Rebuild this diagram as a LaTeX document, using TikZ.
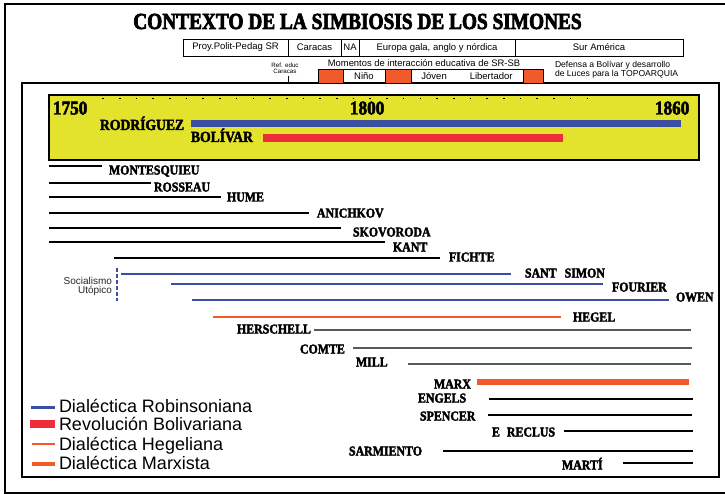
\documentclass[tikz,border=0pt]{standalone}
\usepackage{fontspec}
\setmainfont{Liberation Sans}
\newfontfamily\slabfont[FakeBold=2.5,FakeStretch=0.88]{Liberation Serif}
\newfontfamily\titlefont[FakeBold=3,FakeStretch=0.84]{Liberation Serif}
\usetikzlibrary{positioning}

\definecolor{sbblue}{HTML}{3B4FA2}
\definecolor{sbred}{HTML}{EE2D3B}
\definecolor{sbyellow}{HTML}{E3E22C}
\definecolor{sborange}{HTML}{F15A2B}
\definecolor{sbgrey}{HTML}{58595B}

\begin{document}
\begin{tikzpicture}[
    x=1pt, y=-1pt,
    every node/.style={inner sep=0pt, outer sep=0pt},
    slab/.style={font=\slabfont\bfseries\fontsize{#1}{#1}\selectfont},
    sans/.style={font=\fontsize{#1}{#1}\selectfont},
    who/.style={slab=13.5, anchor=base west},
    cell/.style={draw, line width=0.8pt, minimum height=17pt, sans=9.5},
    mcell/.style={draw, line width=0.8pt, minimum height=14pt, sans=9.5},
    moment/.style={mcell, fill=sborange},
    blackbar/.style={line width=1.6pt},
    greybar/.style={sbgrey, line width=2.8pt},
    bluebar/.style={sbblue, line width=2.8pt},
    hegelbar/.style={sborange, line width=2.8pt},
    marxbar/.style={sborange, line width=5.5pt},
    legend/.style={sans=18, anchor=base west},
]
  \useasboundingbox (0,0) rectangle (725,494);
  \fill[white] (0,0) rectangle (725,494);

  %--- Frames -----------------------------------------------
  \draw[line width=2.5pt] (5,4) rectangle (740,493);
  \draw[line width=1.8pt] (22,83) rectangle (719,477);

  %--- Title and header rows --------------------------------
  \node (title) [font=\titlefont\bfseries\fontsize{23}{23}\selectfont, anchor=base]
      at (357.5,29) {CONTEXTO DE LA SIMBIOSIS DE LOS SIMONES};

  \node (proy) [cell, minimum width=105pt] at (235.5,47.5) {Proy.Polit-Pedag SR};
  \node (caracas) [cell, minimum width=53pt, right=0pt of proy] {Caracas};
  \node (na) [cell, minimum width=18pt, right=0pt of caracas] {NA};
  \node (europa) [cell, minimum width=156pt, right=0pt of na] {Europa gala, anglo y nórdica};
  \node (sur) [cell, minimum width=168pt, right=0pt of europa] {Sur América};

  \node (refeduc) [align=center, font=\fontsize{6.2}{5.8}\selectfont] at (285,68) {Ref. educ\\Caracas};
  \coordinate (reftick) at (288,83);
  \draw[line width=0.8pt, shorten <=3pt] (reftick |- refeduc.south) -- (reftick);

  \node (momentos) [sans=9.4] at (424,63.5) {Momentos de interacción educativa de SR-SB};
  \node (m1) [moment, minimum width=25pt] at (330.5,76) {};
  \node (nino) [mcell, minimum width=42pt, right=0pt of m1] {Niño};
  \node (m2) [moment, minimum width=26pt, right=0pt of nino] {};
  \node (joven) [mcell, minimum width=112pt, right=0pt of m2] {Jóven\hspace{23pt}Libertador};
  \node (m3) [moment, minimum width=20pt, right=0pt of joven] {};

  \node (defensa) [anchor=west, align=left, font=\fontsize{8.6}{8.6}\selectfont] at (555,69.5)
      {Defensa a Bolívar y desarrollo\\de Luces para la TOPOARQUIA};

  %--- Yellow time band -------------------------------------
  \draw[line width=2pt, fill=sbyellow] (49,95) rectangle (699,160);
  \draw[line width=1.6pt, dash pattern=on 1.6pt off 15.1pt] (102.2,98.5) -- (590,98.5);
  \node (y1750) [slab=19.5, anchor=base west] at (53,114.5) {1750};
  \node (y1800) [slab=19.5, anchor=base west] at (350,114.5) {1800};
  \node (y1860) [slab=19.5, anchor=base west] at (655,114.5) {1860};

  \node (rodriguez) [slab=15.5, anchor=base west] at (100,130) {RODRÍGUEZ};
  \draw[sbblue, line width=7pt] (191,124) -- (681,124);
  \node (bolivar) [slab=15.5, anchor=base west] at (191,142) {BOLÍVAR};
  \draw[sbred, line width=8pt] (263,138) -- (563,138);

  %--- Thinkers ---------------------------------------------
  \draw[blackbar] (49,166) -- (102,166);
  \node (montesquieu) [who] at (109,174.5) {MONTESQUIEU};
  \draw[blackbar] (49,183) -- (151,183);
  \node (rosseau) [who] at (154,191.5) {ROSSEAU};
  \draw[blackbar] (49,197) -- (221,197);
  \node (hume) [who] at (227,201.5) {HUME};
  \draw[blackbar] (49,213) -- (309,213);
  \node (anichkov) [who] at (317,217.5) {ANICHKOV};
  \draw[blackbar] (49,228) -- (341,228);
  \node (skovoroda) [who] at (353,236.5) {SKOVORODA};
  \draw[blackbar] (49,242) -- (385,242);
  \node (kant) [who] at (393,251.5) {KANT};
  \draw[blackbar] (114,258) -- (440,258);
  \node (fichte) [who] at (449,261.5) {FICHTE};

  % utopian socialism
  \node (socialismo) [align=right, anchor=east, text=black!85,
      font=\fontsize{10}{9.2}\selectfont] at (112,286.5) {Socialismo\\Utópico};
  \draw[sbblue, line width=1.5pt, dash pattern=on 4pt off 2pt] (117,268) -- (117,301);
  \draw[bluebar] (121,274) -- (511,274);
  \node (santsimon) [who] at (525,277.5) {SANT\hspace{8pt}SIMON};
  \draw[bluebar] (171,284) -- (603,284);
  \node (fourier) [who] at (612,291.5) {FOURIER};
  \draw[bluebar] (192,300) -- (669,300);
  \node (owen) [who] at (676,301.5) {OWEN};

  \draw[hegelbar] (213,317) -- (561,317);
  \node (hegel) [who] at (573,321.5) {HEGEL};
  \node (herschell) [who] at (237,333.5) {HERSCHELL};
  \draw[greybar] (314,330) -- (691,330);
  \node (comte) [who] at (300,353.5) {COMTE};
  \draw[greybar] (353,348) -- (692,348);
  \node (mill) [who] at (356,366.5) {MILL};
  \draw[greybar] (408,364) -- (691,364);

  \node (marx) [who] at (434,388.5) {MARX};
  \draw[marxbar] (477,382) -- (689,382);
  \node (engels) [who] at (418,402.5) {ENGELS};
  \draw[blackbar] (489,399) -- (693,399);
  \node (spencer) [who] at (420,420.5) {SPENCER};
  \draw[blackbar] (488,415) -- (692,415);
  \node (reclus) [who] at (492,436.5) {E\hspace{7pt}RECLUS};
  \draw[blackbar] (564,431) -- (693,431);
  \node (sarmiento) [who] at (349,455.5) {SARMIENTO};
  \draw[blackbar] (443,451) -- (693,451);
  \node (marti) [who] at (562,469.5) {MARTÍ};
  \draw[blackbar] (623,463) -- (693,463);

  %--- Legend -----------------------------------------------
  \draw[sbblue, line width=3pt] (31,407) -- (55,407);
  \node (robinson) [legend] at (59,412.5) {Dialéctica Robinsoniana};
  \fill[sbred] (30,420) rectangle (55,428);
  \node (revolucion) [legend] at (59,430.5) {Revolución Bolivariana};
  \draw[sborange, line width=2.5pt] (32,444) -- (55,444);
  \node (hegeliana) [legend] at (59,450.5) {Dialéctica Hegeliana};
  \draw[sborange, line width=4.5pt] (32,464) -- (55,464);
  \node (marxista) [legend] at (59,469.5) {Dialéctica Marxista};
\end{tikzpicture}
\end{document}
